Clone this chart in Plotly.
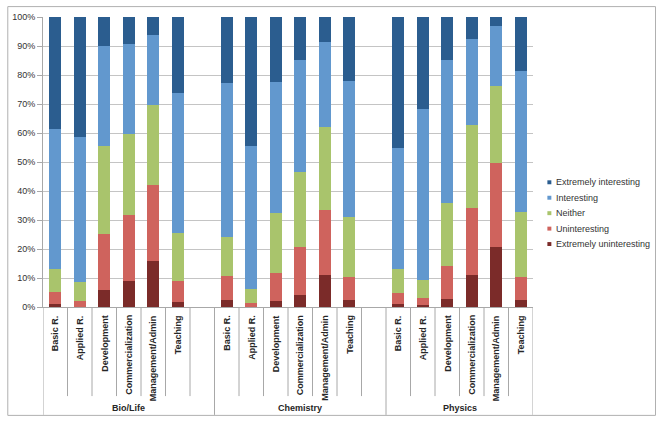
import plotly.graph_objects as go

# ---- data ----
groups = ["Bio/Life", "Chemistry", "Physics"]
categories = ["Basic R.", "Applied R.", "Development", "Commercialization", "Management/Admin", "Teaching"]
series_names = ["Extremely uninteresting", "Uninteresting", "Neither", "Interesting", "Extremely interesting"]

# values per group (Bio/Life, Chemistry, Physics), each list over categories (percent)
extremely_uninteresting = [
    [0.9, 0.0, 5.8, 8.9, 16.0, 1.7],
    [2.5, 0.0, 1.9, 4.3, 11.1, 2.3],
    [1.0, 0.6, 2.6, 11.1, 20.8, 2.3],
]
uninteresting = [
    [4.4, 2.0, 19.5, 22.8, 25.9, 7.4],
    [8.3, 1.25, 9.9, 16.5, 22.4, 7.9],
    [3.8, 2.5, 11.6, 22.9, 28.9, 8.2],
]
neither = [
    [7.9, 6.5, 30.3, 27.8, 27.6, 16.5],
    [13.5, 5.1, 20.5, 25.6, 28.4, 21.0],
    [8.2, 6.3, 21.8, 28.6, 26.55, 22.2],
]
interesting = [
    [48.2, 50.1, 34.5, 31.1, 24.2, 48.3],
    [53.0, 49.1, 45.2, 38.7, 29.6, 46.8],
    [41.9, 58.9, 49.3, 29.9, 20.55, 48.55],
]
extremely_interesting = [
    [38.6, 41.4, 9.9, 9.4, 6.3, 26.1],
    [22.7, 44.5, 22.5, 14.9, 8.5, 22.0],
    [45.1, 31.7, 14.7, 7.5, 3.2, 18.75],
]

colors = {
    "Extremely uninteresting": "#7B2B29",
    "Uninteresting": "#CF635D",
    "Neither": "#A9C46C",
    "Interesting": "#6298CE",
    "Extremely interesting": "#2B5D8F",
}
series_values = {
    "Extremely uninteresting": extremely_uninteresting,
    "Uninteresting": uninteresting,
    "Neither": neither,
    "Interesting": interesting,
    "Extremely interesting": extremely_interesting,
}

# ---- layout helpers ----
W, H = 661, 422
PL, PR, PT, PB = 39, 533, 14, 307  # plot area in pixels
slot = len(categories) + 1  # each group followed by an empty slot


def px2x(px):
    return (px - PL) / (PR - PL)


def px2y(py):
    return (PB - py) / (PB - PT)


positions = []
for gi in range(len(groups)):
    for ci in range(len(categories)):
        positions.append(gi * slot + ci)
n_slots = len(groups) * slot - 1

fig = go.Figure()
for name in series_names:
    vals = [v for grp in series_values[name] for v in grp]
    fig.add_trace(go.Bar(
        x=positions, y=vals, name=name, width=0.5,
        marker=dict(color=colors[name], line=dict(width=0)),
        showlegend=False,
    ))

shapes = []
annotations = []
GRID = "#C4C4C4"
LINE = "#A8A8A8"

# category dividers
group_bounds = [gi * slot - 0.5 for gi in range(len(groups))] + [n_slots - 0.5]
for k in range(n_slots + 1):
    xb = k - 0.5
    is_group = any(abs(xb - g) < 1e-9 for g in group_bounds)
    shapes.append(dict(type="line", xref="x", yref="paper", x0=xb, x1=xb,
                       y0=0, y1=px2y(416 if is_group else 397),
                       line=dict(color=LINE, width=1)))

# category labels
for gi in range(len(groups)):
    for ci, cat in enumerate(categories):
        annotations.append(dict(
            x=gi * slot + ci, y=0, xref="x", yref="paper", yshift=-6,
            text=cat, textangle=-90, showarrow=False,
            xanchor="center", yanchor="top",
            font=dict(family="Liberation Sans, Arial, sans-serif", size=9, color="#262626", weight="bold"),
        ))
# group labels
for gi, g in enumerate(groups):
    left = gi * slot - 0.5
    right = min(gi * slot + slot - 0.5, n_slots - 0.5)
    annotations.append(dict(
        x=(left + right) / 2, y=px2y(409), xref="x", yref="paper",
        text=g, showarrow=False, xanchor="center", yanchor="middle",
        font=dict(family="Liberation Sans, Arial, sans-serif", size=9, color="#262626", weight="bold"),
    ))

# custom legend
legend_order = ["Extremely interesting", "Interesting", "Neither", "Uninteresting", "Extremely uninteresting"]
for i, name in enumerate(legend_order):
    cy = 181 + i * 15.6
    shapes.append(dict(type="rect", xref="paper", yref="paper",
                       x0=px2x(547.5), x1=px2x(551.5), y0=px2y(cy - 2), y1=px2y(cy + 2),
                       fillcolor=colors[name], line=dict(width=0)))
    annotations.append(dict(
        x=px2x(554), y=px2y(cy), xref="paper", yref="paper", text=name,
        showarrow=False, xanchor="left", yanchor="middle",
        font=dict(family="Liberation Sans, Arial, sans-serif", size=9, color="#333333"),
    ))

# outer border (four lines)
bx0, bx1, by0, by1 = px2x(3.5), px2x(656.5), px2y(416.5), px2y(3.5)
for (x0, y0, x1, y1) in [(bx0, by0, bx1, by0), (bx0, by1, bx1, by1), (bx0, by0, bx0, by1), (bx1, by0, bx1, by1)]:
    shapes.append(dict(type="line", xref="paper", yref="paper", x0=x0, y0=y0, x1=x1, y1=y1,
                       line=dict(color="#B0B0B0", width=1)))

fig.update_layout(
    width=W, height=H,
    margin=dict(l=PL, r=W - PR, t=PT, b=H - PB, pad=0),
    barmode="stack",
    plot_bgcolor="white", paper_bgcolor="white",
    font=dict(family="Liberation Sans, Arial, sans-serif", size=9, color="#333333"),
    xaxis=dict(range=[-0.5, n_slots - 0.5], showticklabels=False, showgrid=False,
               zeroline=False, showline=True, linecolor=LINE, linewidth=1, ticks=""),
    yaxis=dict(range=[0, 100], dtick=10, ticksuffix="%", showgrid=True, gridcolor=GRID,
               gridwidth=1, zeroline=False, showline=True, linecolor=LINE, linewidth=1,
               ticks="outside", ticklen=5, tickcolor=LINE,
               tickfont=dict(size=9, color="#333333")),
    shapes=shapes, annotations=annotations,
    bargap=0.5,
)

fig.write_html("out.html", config={"displayModeBar": False},
               post_script="document.body.style.margin='0';")
